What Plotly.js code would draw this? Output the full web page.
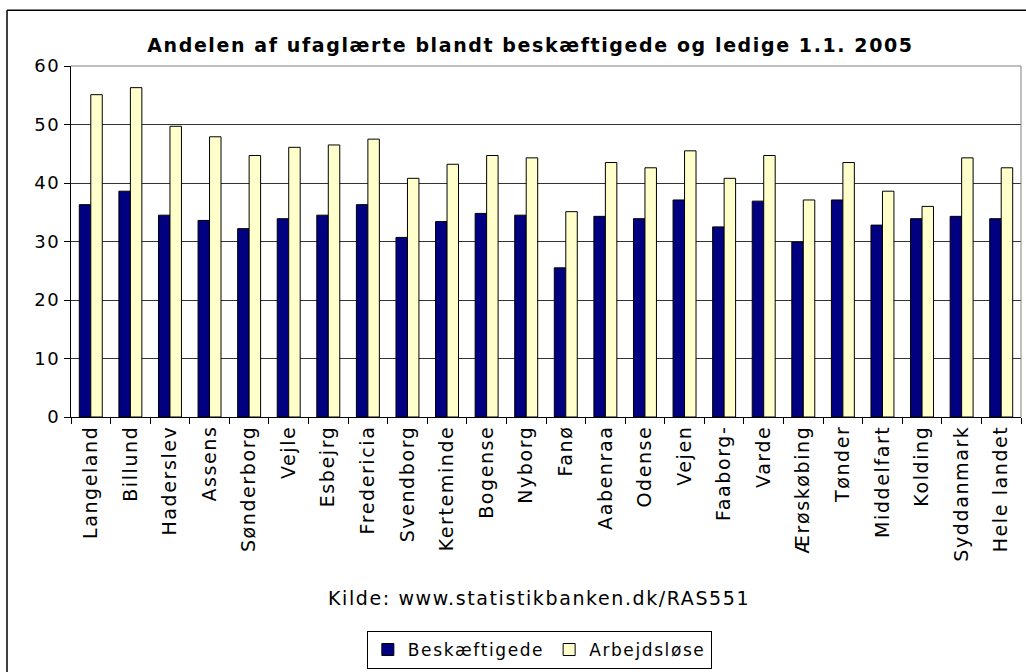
<!DOCTYPE html>
<html>
<head>
<meta charset="utf-8">
<script src="https://cdn.plot.ly/plotly-3.0.1.min.js"></script>
<style>
html,body{margin:0;padding:0;background:#fff;}
#chart{width:1026px;height:672px;}
svg text{letter-spacing:1.6px;}
</style>
</head>
<body>
<div id="chart"></div>
<script>
const categories = ["Langeland","Billund","Haderslev","Assens","Sønderborg","Vejle","Esbejrg","Fredericia","Svendborg","Kerteminde","Bogense","Nyborg","Fanø","Aabenraa","Odense","Vejen","Faaborg-","Varde","Ærøskøbing","Tønder","Middelfart","Kolding","Syddanmark","Hele landet"];
const beskaeftigede = [36.3,38.6,34.5,33.6,32.2,33.9,34.5,36.3,30.7,33.4,34.8,34.5,25.5,34.3,33.9,37.1,32.5,36.9,29.9,37.1,32.8,33.9,34.3,33.9];
const arbejdsloese = [55.1,56.3,49.7,47.9,44.7,46.1,46.5,47.5,40.8,43.2,44.7,44.3,35.1,43.5,42.6,45.5,40.8,44.7,37.1,43.5,38.6,36.0,44.3,42.6];
const yTicks = [0,10,20,30,40,50,60];
const titleText = "Andelen af ufaglærte blandt beskæftigede og ledige 1.1. 2005";
const sourceText = "Kilde: www.statistikbanken.dk/RAS551";

const FONT = "Verdana, 'DejaVu Sans', sans-serif";

const traces = [
  {type:'bar', name:'Beskæftigede', x:categories, y:beskaeftigede,
   marker:{color:'#000080', line:{color:'#000000', width:1}}},
  {type:'bar', name:'Arbejdsløse', x:categories, y:arbejdsloese,
   marker:{color:'#FFFFCC', line:{color:'#000000', width:1}}}
];

const layout = {
  width:1026, height:672,
  margin:{l:71, r:5, t:66, b:254},
  paper_bgcolor:'#ffffff', plot_bgcolor:'#ffffff',
  font:{family:FONT, size:18, color:'#000'},
  title:{text:'<b>'+titleText+'</b>', font:{family:FONT, size:19, color:'#000'},
         x:0.517, xanchor:'center', y:(672-45)/672, yanchor:'middle', yref:'container'},
  barmode:'group', bargap:0.42, bargroupgap:0,
  showlegend:true,
  legend:{orientation:'h', x:0.493, xanchor:'center', y:-0.713, yanchor:'bottom',
          bordercolor:'#000', borderwidth:1, bgcolor:'#fff',
          font:{family:FONT, size:17, color:'#000'}, traceorder:'normal',
          itemwidth:30},
  xaxis:{type:'category', tickangle:-90, tickfont:{family:FONT, size:19},
         ticks:'outside', ticklen:6, tickcolor:'#000', tickson:'boundaries',
         showline:true, linecolor:'#000', linewidth:1, showgrid:false,
         fixedrange:true},
  yaxis:{range:[0,60], tickvals:yTicks, ticktext:yTicks.map(String),
         tickfont:{family:FONT, size:18}, ticks:'outside', ticklen:6, tickcolor:'#000',
         showline:true, linecolor:'#000', linewidth:1,
         showgrid:true, gridcolor:'#333', gridwidth:1, zeroline:false, fixedrange:true},
  annotations:[
    {text:sourceText, xref:'paper', yref:'paper', x:0.4926, y:-0.517,
     xanchor:'center', yanchor:'middle', showarrow:false,
     font:{family:FONT, size:19, color:'#000'}}
  ],
  shapes:[
    {type:'line', xref:'paper', yref:'paper', x0:1, x1:1, y0:0, y1:1, line:{color:'#808080', width:1}},
    {type:'line', xref:'paper', yref:'paper', x0:0, x1:1, y0:1, y1:1, line:{color:'#808080', width:1}},
    {type:'line', xref:'paper', yref:'paper', x0:(7-71)/950, x1:1.02, y0:(418-10)/352, y1:(418-10)/352, line:{color:'#000', width:1.5}},
    {type:'line', xref:'paper', yref:'paper', x0:(7-71)/950, x1:(7-71)/950, y0:(418-10)/352, y1:-0.8, line:{color:'#000', width:1.5}}
  ]
};

Plotly.newPlot('chart', traces, layout, {displayModeBar:false, staticPlot:true});
</script>
</body>
</html>
